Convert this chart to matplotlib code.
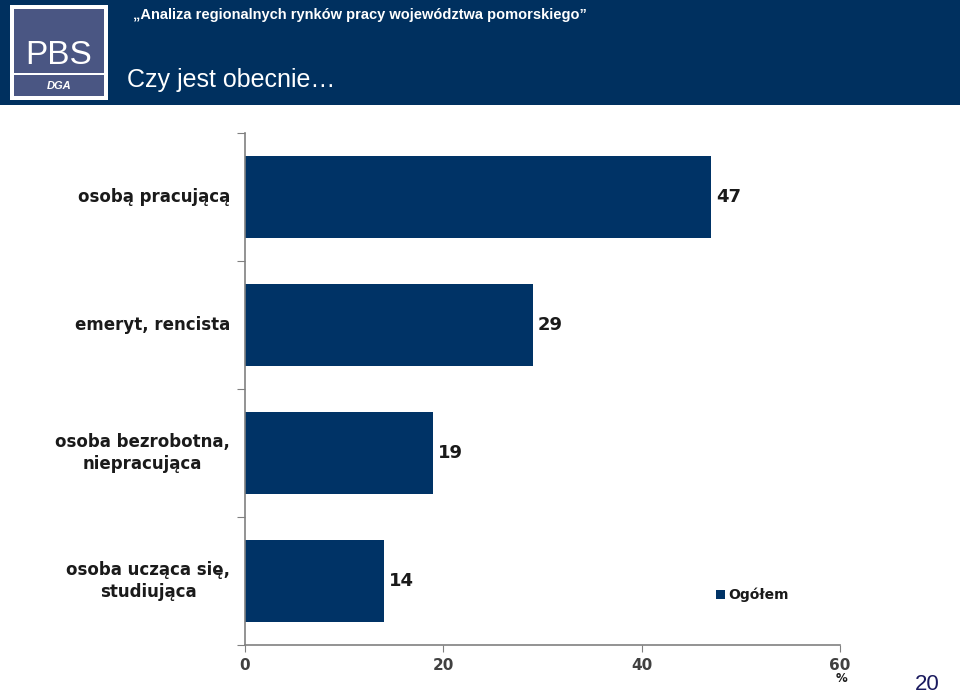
import matplotlib
matplotlib.use("Agg")
from matplotlib import pyplot as plt
from matplotlib.patches import Rectangle

categories = ["osobą pracującą", "emeryt, rencista", "osoba bezrobotna,\nniepracująca",
              "osoba ucząca się,\nstudiująca"]
values = [47, 29, 19, 14]
x_ticks = [0, 20, 40, 60]
series_name = "Ogółem"

NAVY = "#003366"
HEADER = "#00305f"

fig = plt.figure(figsize=(9.6, 6.97), dpi=100)

# header band
fig.patches.append(Rectangle((0, 1 - 105 / 697), 1, 105 / 697, transform=fig.transFigure,
                             facecolor=HEADER, edgecolor="none", zorder=0))
# logo
fig.patches.append(Rectangle((10 / 960, 1 - 100 / 697), 98 / 960, 95 / 697, transform=fig.transFigure,
                             facecolor="white", edgecolor="none", zorder=1))
fig.patches.append(Rectangle((14 / 960, 1 - 96 / 697), 90 / 960, 87 / 697, transform=fig.transFigure,
                             facecolor="#4a5683", edgecolor="none", zorder=2))
fig.patches.append(Rectangle((14 / 960, 1 - 75 / 697), 90 / 960, 2 / 697, transform=fig.transFigure,
                             facecolor="white", edgecolor="none", zorder=3))
fig.text(59 / 960, 1 - 55 / 697, "PBS", color="white", fontsize=24, family="Liberation Sans",
         ha="center", va="center", zorder=4)
fig.text(59 / 960, 1 - 86 / 697, "DGA", color="white", fontsize=8, family="Liberation Sans",
         weight="bold", style="italic", ha="center", va="center", zorder=4)

fig.text(133 / 960, 1 - 15 / 697, "„Analiza regionalnych rynków pracy województwa pomorskiego”",
         color="white", fontsize=10.5, family="Liberation Sans", weight="bold", va="center")
fig.text(127 / 960, 1 - 80 / 697, "Czy jest obecnie…", color="white", fontsize=18,
         family="Liberation Sans", va="center")
fig.text(940 / 960, 1 - 685 / 697, "20", color="#1a1a5e", fontsize=16,
         family="Liberation Sans", ha="right", va="center")

ax = fig.add_axes([245 / 960, 1 - 645 / 697, 595 / 960, 512 / 697])
y = list(range(len(categories)))
ax.barh(y, values, height=0.64, color=NAVY)
for yi, v in zip(y, values):
    ax.text(v + 0.5, yi, str(v), va="center", ha="left", fontsize=13, weight="bold", color="#1a1a1a")

ax.set_xlim(0, 60)
ax.set_ylim(len(categories) - 0.5, -0.5)
ax.set_xticks(x_ticks)
ax.set_xticklabels([str(t) for t in x_ticks], fontsize=11, weight="bold", color="#404040")
ax.set_yticks([i - 0.5 for i in range(len(categories) + 1)])
ax.set_yticklabels([])
ax.tick_params(axis="y", length=6, color="#808080")
ax.tick_params(axis="x", length=5, color="#808080", pad=4)
for yi, cat in zip(y, categories):
    ax.text(-1.5, yi, cat, ha="right", va="center", multialignment="center", fontsize=12,
            weight="bold", color="#1a1a1a", linespacing=1.25, transform=ax.transData)
for s in ["top", "right"]:
    ax.spines[s].set_visible(False)
for s in ["left", "bottom"]:
    ax.spines[s].set_color("#808080")
    ax.spines[s].set_linewidth(1.2)

fig.text(842 / 960, 1 - 678 / 697, "%", fontsize=8.5, weight="bold", color="#1a1a1a",
         ha="center", va="center")

# legend
fig.patches.append(Rectangle((716 / 960, 1 - 599 / 697), 9 / 960, 9 / 697, transform=fig.transFigure,
                             facecolor=NAVY, edgecolor="none"))
fig.text(728 / 960, 1 - 595 / 697, series_name, fontsize=10, weight="bold", color="#1a1a1a",
         va="center")

fig.savefig("out.png", dpi=100)
